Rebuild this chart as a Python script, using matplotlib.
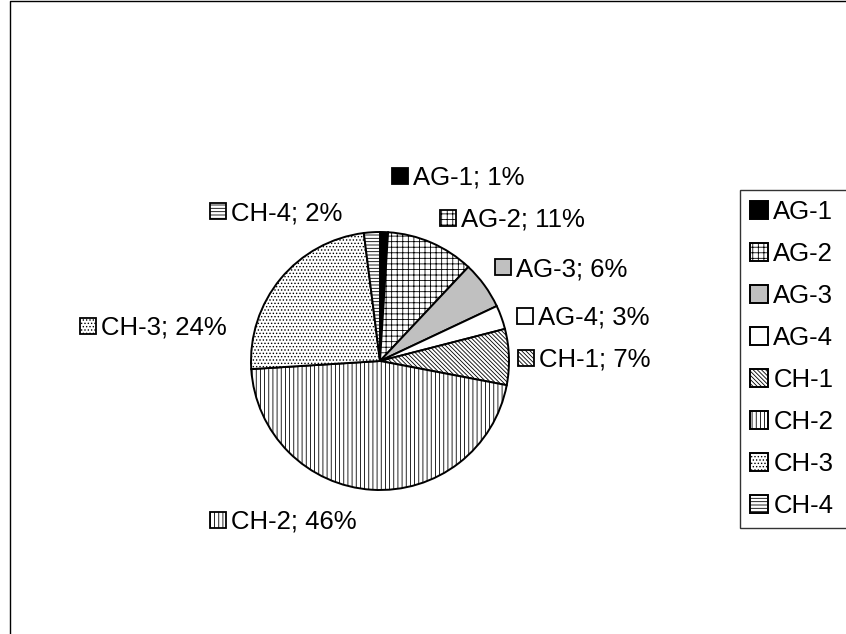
import matplotlib
matplotlib.use('Agg')
import matplotlib.pyplot as plt
from matplotlib.patches import Rectangle
from matplotlib.lines import Line2D

plt.rcParams['font.family'] = ['Liberation Sans', 'DejaVu Sans']
plt.rcParams['hatch.linewidth'] = 0.6
plt.rcParams['hatch.color'] = 'black'

# data
names = ['AG-1', 'AG-2', 'AG-3', 'AG-4', 'CH-1', 'CH-2', 'CH-3', 'CH-4']
shares = [1, 11, 6, 3, 7, 46, 24, 2]

# styles
face_colors = ['black', 'white', '#c0c0c0', 'white', 'white', 'white', 'white', 'white']
hatches = [None, '+++', None, None, '\\' * 8, '||||', '.....', '-----']

# label layout in pixels (key square left x, centre y), y measured from top
label_pos = [(392, 176), (440, 218), (495, 267), (517, 316),
             (518, 358), (210, 520), (80, 326), (210, 211)]

W, H = 846, 634
fs = 18.5

fig = plt.figure(figsize=(W / 100, H / 100), dpi=100)
ax = fig.add_axes([0, 0, 1, 1])

wedges, _ = ax.pie(shares, startangle=90, counterclock=False,
                   center=(380, H - 361), radius=129, colors=face_colors,
                   wedgeprops=dict(edgecolor='black', linewidth=1.4))
for w, h in zip(wedges, hatches):
    if h:
        w.set_hatch(h)

ax.set_aspect('auto')
ax.set_xlim(0, W)
ax.set_ylim(0, H)
ax.axis('off')

# outer chart border (right and bottom edges are cut off)
ax.add_line(Line2D([10, 10, W + 5], [-5, H - 1, H - 1], color='black', lw=1.0,
                   clip_on=False))

# data labels with legend keys
sq = 16
for (x, yc), name, share, fc, h in zip(label_pos, names, shares, face_colors, hatches):
    ax.add_patch(Rectangle((x, H - yc - sq / 2), sq, sq, facecolor=fc, hatch=h,
                           edgecolor='black', lw=1.3))
    ax.text(x + sq + 5, H - yc - 9, f'{name}; {share}%', fontsize=fs,
            ha='left', va='baseline')

# legend box runs past the right edge of the picture
leg = ax.legend(wedges, names, loc='upper left', mode='expand',
                bbox_to_anchor=(740 / W, 1 - 190 / H, 0.2, 0),
                bbox_transform=fig.transFigure,
                fontsize=fs, frameon=True, fancybox=False, edgecolor='black',
                handlelength=0.7, handleheight=0.7, handletextpad=0.2,
                labelspacing=0.7, borderpad=0.4, borderaxespad=0)
leg.get_frame().set_linewidth(1.0)

fig.savefig('out.png', dpi=100)
